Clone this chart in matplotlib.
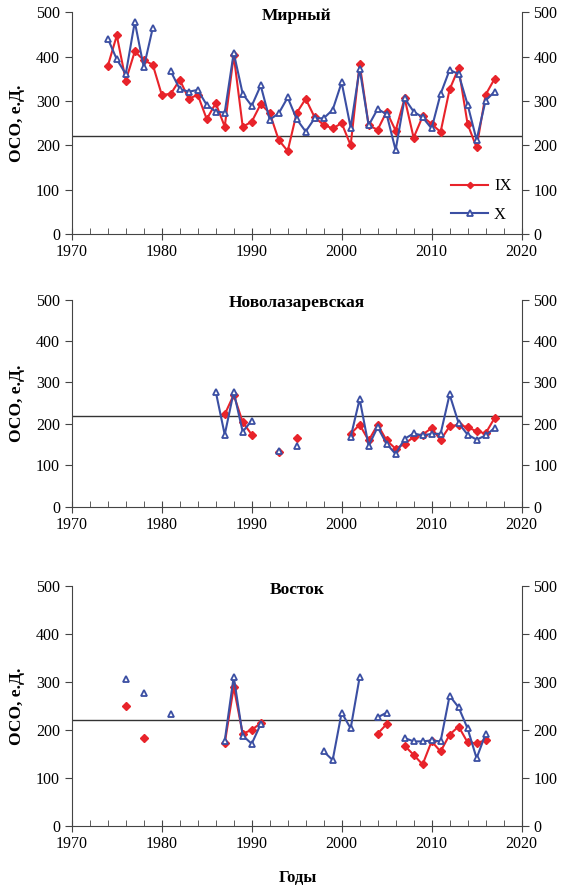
import numpy as np
import matplotlib.pyplot as plt
from matplotlib.ticker import MultipleLocator

plt.rcParams['font.family'] = ['Liberation Serif', 'DejaVu Serif']

nan = np.nan
years = np.arange(1974, 2018)

# Мирный
mir_ix = [379, 448, 346, 412, 392, 382, 314, 316, 348, 305, 314, 259, 295, 242, 403, 242,
          253, 293, 273, 212, 187, 273, 305, 263, 246, 238, 250, 200, 384, 245, 235, 276,
          233, 306, 217, 265, 248, 230, 326, 374, 248, 195, 314, 350]
mir_x = [441, 394, 361, 479, 376, 465, nan, 367, 327, 321, 325, 291, 276, 274, 409, 316,
         289, 335, 258, 272, 308, 259, 231, 261, 261, 280, 342, 240, 373, 245, 282, 270,
         189, 306, 276, 263, 238, 316, 370, 361, 292, 212, 301, 321]

# Новолазаревская
nov_ix = [nan] * 13 + [223, 270, 204, 174, nan, nan, 131, nan, 165, nan, nan, nan, nan, nan,
                       176, 198, 160, 198, 160, 140, 152, 168, 174, 190, 161, 194, 198, 192,
                       182, 177, 214]
nov_x = [nan] * 12 + [278, 174, 277, 181, 208, nan, nan, 134, nan, 147, nan, nan, nan, nan, nan,
                      168, 260, 147, 192, 152, 127, 164, 177, 172, 176, 176, 271, 202, 174,
                      162, 172, 190]

# Восток
vos_ix = [nan, nan, 250, nan, 183, nan, nan, nan, nan, nan, nan, nan, nan, 172, 289, 192, 200, 214,
          nan, nan, nan, nan, nan, nan, nan, nan, nan, nan, nan, nan, 192, 212, nan, 167, 148,
          128, 176, 155, 190, 207, 174, 172, 179, nan]
vos_x = [nan, nan, 306, nan, 276, nan, nan, 233, nan, nan, nan, nan, nan, 177, 311, 188, 171, 212,
         nan, nan, nan, nan, nan, nan, 155, 137, 236, 203, 310, nan, 226, 236, nan, 183, 176,
         176, 178, 176, 271, 247, 203, 141, 191, nan]

stations = ['Мирный', 'Новолазаревская', 'Восток']
ix_data = [mir_ix, nov_ix, vos_ix]
x_data = [mir_x, nov_x, vos_x]
norm = 220

red = '#e8232a'
blue = '#3b4fa3'

fig = plt.figure(figsize=(5.7, 8.89), dpi=100)
boxes = [[0.126, 0.737, 0.789, 0.249],
         [0.126, 0.430, 0.789, 0.233],
         [0.126, 0.071, 0.789, 0.270]]

for i, box in enumerate(boxes):
    ax = fig.add_axes(box)
    ax.axhline(norm, color='#333333', lw=1)
    ax.plot(years, ix_data[i], color=red, lw=1.5, marker='D', ms=4,
            mfc=red, mec=red, label='IX')
    ax.plot(years, x_data[i], color=blue, lw=1.5, marker='^', ms=5,
            mfc='white', mec=blue, mew=1.3, label='X')
    ax.set_xlim(1970, 2020)
    ax.set_ylim(0, 500)
    ax.xaxis.set_major_locator(MultipleLocator(10))
    ax.xaxis.set_minor_locator(MultipleLocator(2))
    ax.yaxis.set_major_locator(MultipleLocator(100))
    ax.spines['top'].set_visible(False)
    for s in ['left', 'right', 'bottom']:
        ax.spines[s].set_color('#444444')
    ax.tick_params(axis='x', which='major', direction='inout', length=8, labelsize=11.5,
                   color='#444444')
    ax.tick_params(axis='x', which='minor', direction='in', length=4, color='#444444')
    ax.tick_params(axis='y', which='major', direction='out', length=5, labelsize=11.5,
                   right=True, labelright=True, color='#444444')
    ax.set_ylabel('ОСО, е.Д.', fontsize=12.5, fontweight='bold')
    ax.yaxis.set_label_coords(-0.105, 0.5)
    ax.text(0.5, 0.982, stations[i], transform=ax.transAxes, ha='center', va='center',
            fontsize=12.5, fontweight='bold')
    if i == 0:
        ax.legend(loc='upper left', bbox_to_anchor=(0.844, 0.25), frameon=False,
                  fontsize=12, handlelength=2.2, handletextpad=0.35, labelspacing=0.75,
                  borderpad=0, borderaxespad=0, markerscale=0.8)

fig.text(0.522, 0.0124, 'Годы', ha='center', va='center', fontsize=12, fontweight='bold')

fig.savefig('out.png', dpi=100)
